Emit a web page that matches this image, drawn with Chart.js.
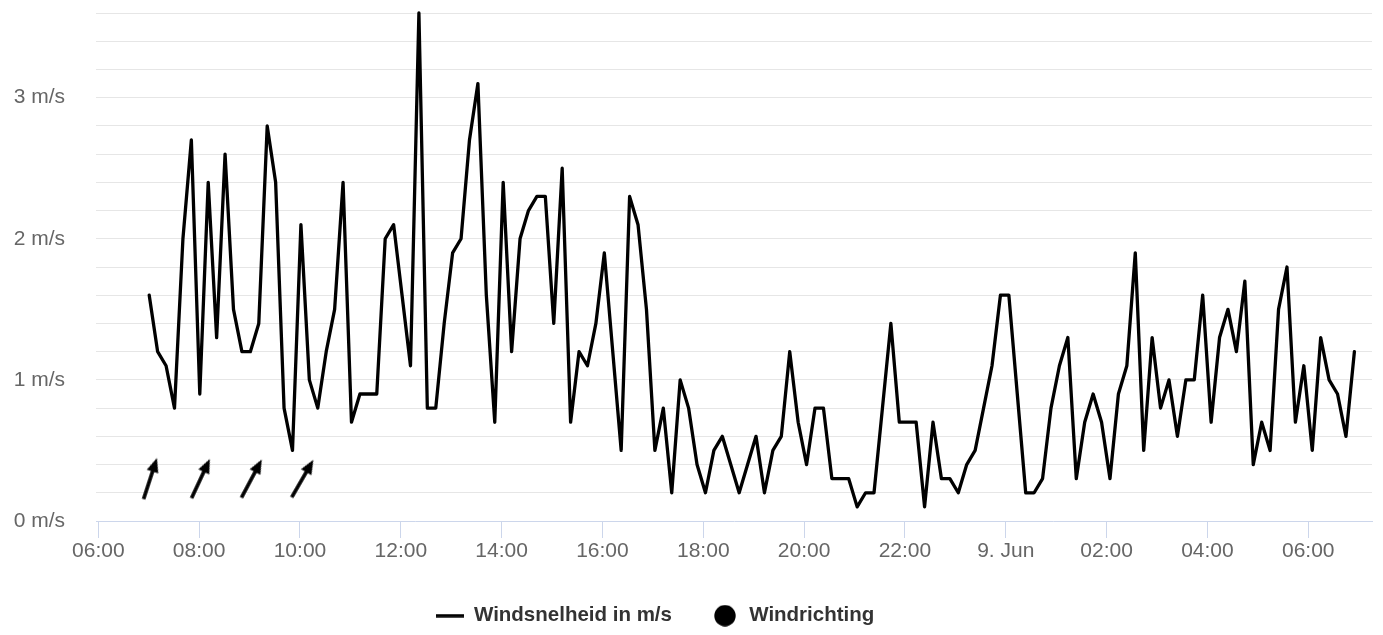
<!DOCTYPE html>
<html>
<head>
<meta charset="utf-8">
<script src="https://cdn.jsdelivr.net/npm/chart.js@4.4.1/dist/chart.umd.min.js"></script>
<style>
  html, body { margin: 0; padding: 0; background: #ffffff; }
  #wrap { width: 1383px; height: 635px; position: relative; }
</style>
</head>
<body>
<div id="wrap"><canvas id="c"></canvas></div>
<script>
// ---- data ----
const seriesNames = ['Windsnelheid in m/s', 'Windrichting'];
const startHour = 7.01;       // first measurement: 8 Jun ~07:00 (hours since 8 Jun 00:00)
const stepMinutes = 10.03;    // measurement interval (about 10 minutes)
const windSpeed = [
  1.6, 1.2, 1.1, 0.8, 2.0, 2.7, 0.9, 2.4, 1.3, 2.6, 1.5, 1.2, 1.2, 1.4, 2.8, 2.4, 0.8, 0.5, 2.1, 1.0, 0.8, 1.2, 1.5, 2.4,
  0.7, 0.9, 0.9, 0.9, 2.0, 2.1, 1.6, 1.1, 3.6, 0.8, 0.8, 1.4, 1.9, 2.0, 2.7, 3.1, 1.6, 0.7, 2.4, 1.2, 2.0, 2.2, 2.3, 2.3, 1.4, 2.5, 0.7, 1.2, 1.1,
  1.4, 1.9, 1.2, 0.5, 2.3, 2.1, 1.5, 0.5, 0.8, 0.2, 1.0, 0.8, 0.4, 0.2, 0.5, 0.6, 0.4, 0.2, 0.4, 0.6, 0.2, 0.5, 0.6, 1.2, 0.7, 0.4, 0.8, 0.8,
  0.3, 0.3, 0.3, 0.1, 0.2, 0.2, 0.8, 1.4, 0.7, 0.7, 0.7, 0.1, 0.7, 0.3, 0.3, 0.2, 0.4, 0.5, 0.8, 1.1, 1.6, 1.6, 0.9, 0.2, 0.2, 0.3, 0.8, 1.1, 1.3,
  0.3, 0.7, 0.9, 0.7, 0.3, 0.9, 1.1, 1.9, 0.5, 1.3, 0.8, 1.0, 0.6, 1.0, 1.0, 1.6, 0.7, 1.3, 1.5, 1.2, 1.7, 0.4, 0.7, 0.5, 1.5, 1.8, 0.7, 1.1, 0.5, 1.3, 1.0, 0.9, 0.6, 1.2
];
const directionHours = [7.03, 8.03, 9.04, 10.05]; // ~07:00 .. ~10:00
const windDirection = [198, 205, 208, 210];    // degrees (direction the wind comes from)
const directionLevel = [0.3, 0.3, 0.3, 0.3];   // vertical placement of the arrows (m/s axis)
const xTickValues = [6, 8, 10, 12, 14, 16, 18, 20, 22, 24, 26, 28, 30];
const xTickLabels = ['06:00', '08:00', '10:00', '12:00', '14:00', '16:00', '18:00', '20:00', '22:00', '9. Jun', '02:00', '04:00', '06:00'];
const yUnit = ' m/s';

// ---- build library data ----
const speedPoints = windSpeed.map((v, i) => ({ x: startHour + i * stepMinutes / 60, y: v }));
const dirPoints = directionHours.map((h, i) => ({ x: h, y: directionLevel[i] }));
const dirRotation = windDirection.map(d => d - 180);

const FONT = '"Liberation Sans", Arial, Helvetica, sans-serif';
Chart.defaults.font.family = FONT;

function makeArrow() {
  const c = document.createElement('canvas');
  c.width = 22; c.height = 46;
  const g = c.getContext('2d');
  g.strokeStyle = '#000'; g.fillStyle = '#000';
  g.lineWidth = 3.6;
  g.beginPath(); g.moveTo(11, 44.5); g.lineTo(11, 12); g.stroke();
  g.beginPath(); g.moveTo(11, 1.2); g.lineTo(5.0, 15.5); g.lineTo(17.0, 15.5); g.closePath(); g.fill();
  return c;
}
function makeLineIcon() {
  const c = document.createElement('canvas');
  c.width = 28; c.height = 4;
  const g = c.getContext('2d');
  g.fillStyle = '#000'; g.fillRect(0, 0.3, 28, 3.4);
  return c;
}
function makeCircleIcon() {
  const c = document.createElement('canvas');
  c.width = 22; c.height = 22;
  const g = c.getContext('2d');
  g.fillStyle = '#000'; g.beginPath(); g.arc(11, 11, 10.7, 0, Math.PI * 2); g.fill();
  return c;
}
const arrowIcon = makeArrow();
const legendIcons = [makeLineIcon(), makeCircleIcon()];

const legendShift = {
  id: 'legendShift',
  afterLayout(chart) {
    const l = chart.legend;
    l.left -= 31; l.right -= 31;
    l.top += 1; l.bottom += 1;
  }
};

new Chart(document.getElementById('c'), {
  data: {
    datasets: [
      {
        type: 'line', label: seriesNames[0], data: speedPoints,
        borderColor: '#000000', backgroundColor: '#000000', borderWidth: 3.3,
        pointRadius: 0, pointHoverRadius: 0, tension: 0,
        borderJoinStyle: 'round', borderCapStyle: 'round', clip: 8, order: 1
      },
      {
        type: 'scatter', label: seriesNames[1], data: dirPoints,
        pointStyle: arrowIcon, pointRotation: dirRotation,
        pointRadius: 10, pointHoverRadius: 10,
        borderColor: '#000', backgroundColor: '#000', clip: 30, order: 0
      }
    ]
  },
  options: {
    responsive: true, maintainAspectRatio: false, animation: false, devicePixelRatio: 1,
    layout: { padding: { top: 13, right: 11, bottom: 0, left: 0 } },
    events: [],
    plugins: {
      tooltip: { enabled: false },
      legend: {
        position: 'bottom',
        labels: {
          usePointStyle: true, pointStyleWidth: 28, padding: 39,
          color: '#333333',
          font: { size: 20.5, weight: 'bold', family: FONT },
          generateLabels: chart => chart.data.datasets.map((ds, i) => ({
            text: ds.label, pointStyle: legendIcons[i], fillStyle: '#000', strokeStyle: '#000',
            lineWidth: 0, hidden: false, datasetIndex: i, fontColor: '#333333'
          }))
        }
      }
    },
    scales: {
      x: {
        type: 'linear', position: 'bottom', min: 5.9544, max: 31.264,
        afterBuildTicks: s => { s.ticks = xTickValues.map(v => ({ value: v })); },
        afterFit: s => { s.height = 44.5; },
        ticks: {
          stepSize: 2, autoSkip: false, maxRotation: 0, includeBounds: false,
          color: '#666666', font: { size: 21, family: FONT }, padding: 1,
          callback: v => { const k = xTickValues.indexOf(v); return k >= 0 ? xTickLabels[k] : ''; }
        },
        grid: { drawOnChartArea: false, drawTicks: true, tickLength: 17, color: '#ccd6eb', tickColor: '#ccd6eb', lineWidth: 1 },
        border: { display: true, color: '#ccd6eb', width: 1 }
      },
      y: {
        type: 'linear', min: 0, max: 3.6,
        afterFit: s => { s.width = 96; },
        ticks: {
          stepSize: 0.2, autoSkip: false, padding: 0,
          color: '#666666', font: { size: 21, family: FONT },
          callback: v => Math.abs(v - Math.round(v)) < 1e-6 ? Math.round(v) + yUnit : ''
        },
        grid: {
          drawTicks: true, tickLength: 31, tickColor: 'rgba(0,0,0,0)', lineWidth: 1,
          color: c => (c.tick && Math.abs(c.tick.value) < 1e-6) ? 'rgba(0,0,0,0)' : '#e6e6e6'
        },
        border: { display: false }
      }
    }
  },
  plugins: [legendShift]
});
</script>
</body>
</html>
